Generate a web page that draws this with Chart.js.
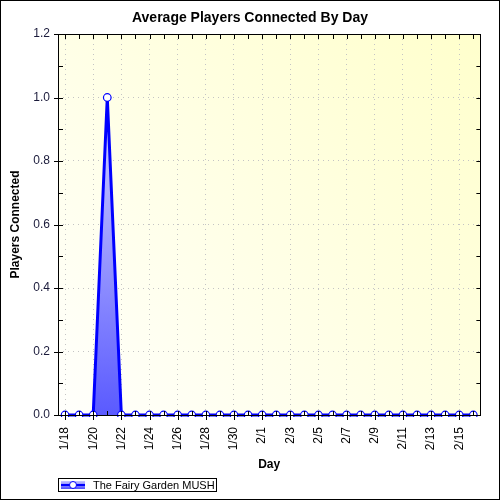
<!DOCTYPE html>
<html lang="en">
<head>
    <meta charset="UTF-8">
    <title>Average Players Connected By Day</title>
    <script src="https://cdn.jsdelivr.net/npm/chart.js@4.4.0/dist/chart.umd.min.js"></script>
    <style>
        body {
            margin: 0;
            background: #ffffff;
        }
        canvas {
            display: block;
        }
    </style>
</head>
<body>
    <canvas id="playersChart" width="500" height="500"></canvas>

    <script>
        // Data
        const days = ['1/18', '1/19', '1/20', '1/21', '1/22', '1/23', '1/24', '1/25', '1/26', '1/27',
                      '1/28', '1/29', '1/30', '1/31', '2/1', '2/2', '2/3', '2/4', '2/5', '2/6',
                      '2/7', '2/8', '2/9', '2/10', '2/11', '2/12', '2/13', '2/14', '2/15', '2/16'];
        const playersConnected = [0, 0, 0, 1, 0, 0, 0, 0, 0, 0,
                                  0, 0, 0, 0, 0, 0, 0, 0, 0, 0,
                                  0, 0, 0, 0, 0, 0, 0, 0, 0, 0];
        const seriesName = 'The Fairy Garden MUSH';
        const yTicks = [0, 0.2, 0.4, 0.6, 0.8, 1.0, 1.2];

        const chartTitle = 'Average Players Connected By Day';
        const xTitle = 'Day';
        const yTitle = 'Players Connected';

        const FONT = '"Liberation Sans", Arial, sans-serif';

        // background, frame, ticks, titles and legend box
        const decorations = {
            id: 'decorations',
            beforeDraw(chart) {
                const ctx = chart.ctx;
                const a = chart.chartArea;
                ctx.save();
                ctx.fillStyle = '#ffffff';
                ctx.fillRect(0, 0, chart.width, chart.height);
                const bg = ctx.createLinearGradient(a.left, a.bottom, a.right, a.top);
                bg.addColorStop(0, '#fffffc');
                bg.addColorStop(1, '#ffffcc');
                ctx.fillStyle = bg;
                ctx.fillRect(a.left, a.top, a.right - a.left, a.bottom - a.top);
                ctx.restore();
            },
            afterDraw(chart) {
                const ctx = chart.ctx;
                const a = chart.chartArea;
                const x = chart.scales.x;
                const y = chart.scales.y;
                ctx.save();
                ctx.strokeStyle = '#000000';
                ctx.lineWidth = 1;

                // plot frame
                ctx.strokeRect(Math.round(a.left) + 0.5, Math.round(a.top) + 0.5,
                               Math.round(a.right - a.left), Math.round(a.bottom - a.top));

                ctx.beginPath();
                // x ticks
                days.forEach((d, i) => {
                    const px = Math.round(x.getPixelForValue(i)) + 0.5;
                    if (i % 2 === 0) {
                        ctx.moveTo(px, a.bottom - 4); ctx.lineTo(px, a.bottom + 5);
                    } else {
                        ctx.moveTo(px, a.bottom - 4); ctx.lineTo(px, a.bottom);
                    }
                    ctx.moveTo(px, a.top); ctx.lineTo(px, a.top + 5);
                });
                // y ticks, major and minor
                for (let v = 0; v <= 1.2001; v += 0.1) {
                    const py = Math.round(y.getPixelForValue(v)) + 0.5;
                    const major = Math.round(v * 10) % 2 === 0;
                    ctx.moveTo(major ? a.left - 4 : a.left, py); ctx.lineTo(a.left + 5, py);
                    ctx.moveTo(a.right - 4, py); ctx.lineTo(a.right, py);
                }
                ctx.stroke();

                // titles
                ctx.fillStyle = '#000000';
                ctx.textAlign = 'center';
                ctx.textBaseline = 'middle';
                ctx.font = 'bold 14px ' + FONT;
                ctx.fillText(chartTitle, 250, 18);
                ctx.font = 'bold 12px ' + FONT;
                ctx.fillText(xTitle, (a.left + a.right) / 2, 465);
                ctx.save();
                ctx.translate(16, (a.top + a.bottom) / 2);
                ctx.rotate(-Math.PI / 2);
                ctx.fillText(yTitle, 0, 0);
                ctx.restore();

                // legend
                ctx.strokeStyle = '#000000';
                ctx.strokeRect(58.5, 478.5, 158, 13);
                const lg = ctx.createLinearGradient(0, 481, 0, 490);
                lg.addColorStop(0, '#c8c8ff');
                lg.addColorStop(1, '#4040ff');
                ctx.fillStyle = lg;
                ctx.fillRect(61, 481, 24, 8);
                ctx.strokeStyle = '#0000ff';
                ctx.lineWidth = 2;
                ctx.beginPath();
                ctx.moveTo(61, 485); ctx.lineTo(85, 485);
                ctx.stroke();
                ctx.fillStyle = '#ffffff';
                ctx.lineWidth = 1;
                ctx.beginPath();
                ctx.arc(73, 485, 3.5, 0, Math.PI * 2);
                ctx.fill();
                ctx.stroke();
                ctx.fillStyle = '#000000';
                ctx.textAlign = 'left';
                ctx.font = '11px ' + FONT;
                ctx.fillText(seriesName, 93, 485.5);

                // outer border
                ctx.strokeStyle = '#000000';
                ctx.strokeRect(0.5, 0.5, chart.width - 1, chart.height - 1);
                ctx.restore();
            }
        };

        function areaFill(context) {
            const chart = context.chart;
            const a = chart.chartArea;
            if (!a) return 'rgba(90,90,255,0.8)';
            const g = chart.ctx.createLinearGradient(0, chart.scales.y.getPixelForValue(1), 0, a.bottom);
            g.addColorStop(0, '#d4d4ff');
            g.addColorStop(1, '#5a5aff');
            return g;
        }

        new Chart(document.getElementById('playersChart'), {
            type: 'line',
            data: {
                labels: days,
                datasets: [{
                    label: seriesName,
                    data: playersConnected,
                    borderColor: '#0000ff',
                    borderWidth: 3,
                    backgroundColor: areaFill,
                    fill: 'origin',
                    tension: 0,
                    pointRadius: 3.8,
                    pointBorderWidth: 1.2,
                    pointBorderColor: '#0000ff',
                    pointBackgroundColor: '#ffffff',
                    clip: 2
                }]
            },
            options: {
                responsive: false,
                animation: false,
                devicePixelRatio: 1,
                layout: {
                    padding: { top: 34, right: 16, left: 0, bottom: 0 }
                },
                plugins: {
                    legend: { display: false },
                    title: { display: false },
                    tooltip: { enabled: false }
                },
                scales: {
                    x: {
                        type: 'category',
                        offset: true,
                        afterFit: scale => { scale.height = 85; },
                        grid: {
                            drawTicks: false,
                            offset: false,
                            color: ctx => (ctx.index % 2 === 0 ? '#c4c4c4' : 'rgba(0,0,0,0)'),
                            lineWidth: 1
                        },
                        border: { display: false, dash: [1, 4] },
                        ticks: {
                            autoSkip: false,
                            minRotation: 90,
                            maxRotation: 90,
                            padding: 12,
                            color: '#000000',
                            font: { family: FONT, size: 12 },
                            callback: function (value, index) {
                                return index % 2 === 0 ? this.getLabelForValue(value) : '';
                            }
                        }
                    },
                    y: {
                        min: 0,
                        max: 1.2,
                        afterFit: scale => { scale.width = 58; },
                        afterBuildTicks: scale => {
                            scale.ticks = yTicks.map(v => ({ value: v }));
                        },
                        grid: {
                            drawTicks: false,
                            color: '#c4c4c4',
                            lineWidth: 1
                        },
                        border: { display: false, dash: [1, 4] },
                        ticks: {
                            padding: 8,
                            color: '#1a1a3a',
                            font: { family: FONT, size: 12 },
                            callback: v => Number(v).toFixed(1)
                        }
                    }
                }
            },
            plugins: [decorations]
        });
    </script>
</body>
</html>
